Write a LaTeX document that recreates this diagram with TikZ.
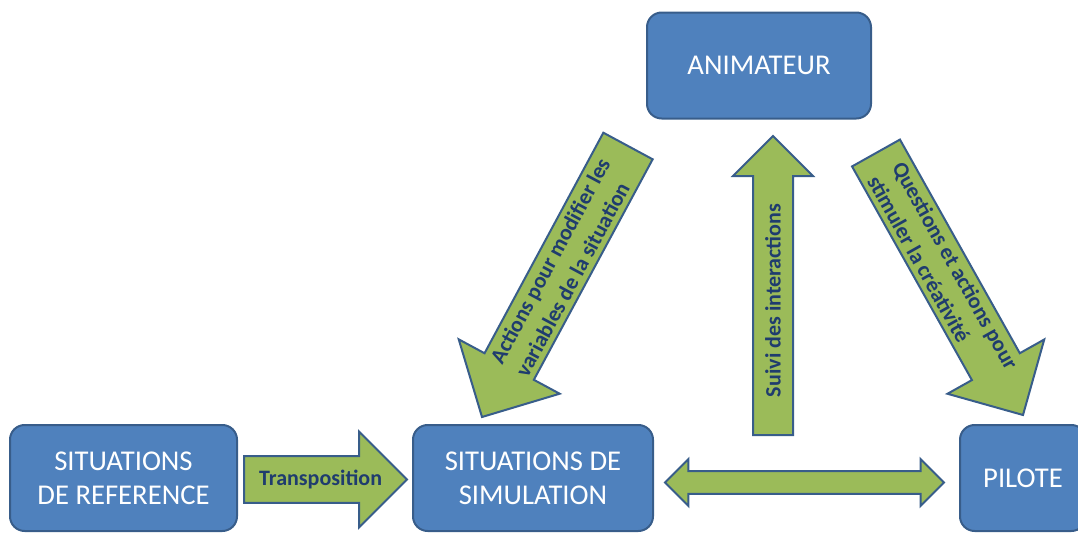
\documentclass[tikz,border=0pt]{standalone}
\usepackage{fontspec}
\setmainfont{Carlito}
\usetikzlibrary{calc}

\tikzset{every picture/.style={line width=0.75pt}}
\tikzset{
  box/.style={draw={rgb, 255:red, 56; green, 93; blue, 138 }, fill={rgb, 255:red, 79; green, 129; blue, 189 }, line width=1.5, rounded corners=11pt, minimum height=79.5pt, inner sep=0pt, align=center, text={rgb, 255:red, 255; green, 255; blue, 255 }, font=\fontsize{21.5}{25.5}\selectfont},
  greenarrow/.style={draw={rgb, 255:red, 56; green, 93; blue, 138 }, fill={rgb, 255:red, 155; green, 187; blue, 89 }, line width=1.5},
  arrowtext/.style={inner sep=0.75pt, text={rgb, 255:red, 31; green, 60; blue, 110 }, font=\fontsize{16.5}{21.5}\selectfont\bfseries},
  % block arrow: #1 half shaft width, #2 half head width (= head length)
  blockarrow/.style 2 args={to path={
    ($(\tikztotarget)!#2!(\tikztostart)$) coordinate (ba-m)
    ($(\tikztostart)!#1!90:(\tikztotarget)$) -- ($(ba-m)!#1!90:(\tikztotarget)$) -- ($(ba-m)!#2!90:(\tikztotarget)$) -- (\tikztotarget)
    -- ($(ba-m)!#2!-90:(\tikztotarget)$) -- ($(ba-m)!#1!-90:(\tikztotarget)$) -- ($(\tikztostart)!#1!-90:(\tikztotarget)$) -- cycle}},
  dblockarrow/.style 2 args={to path={
    ($(\tikztostart)!#2!(\tikztotarget)$) coordinate (ba-n)
    ($(\tikztotarget)!#2!(\tikztostart)$) coordinate (ba-m)
    (\tikztostart) -- ($(ba-n)!#2!90:(\tikztotarget)$) -- ($(ba-n)!#1!90:(\tikztotarget)$) -- ($(ba-m)!#1!90:(\tikztotarget)$) -- ($(ba-m)!#2!90:(\tikztotarget)$) -- (\tikztotarget)
    -- ($(ba-m)!#2!-90:(\tikztotarget)$) -- ($(ba-m)!#1!-90:(\tikztotarget)$) -- ($(ba-n)!#1!-90:(\tikztotarget)$) -- ($(ba-n)!#2!-90:(\tikztotarget)$) -- cycle}}
}

\begin{document}
\begin{tikzpicture}[x=0.75pt,y=0.75pt,yscale=-1,xscale=1]
\useasboundingbox (0,0) rectangle (1078,532);

%Rounded Rect [id:anim]
\node [box, minimum width=168pt] (anim) at (759,65.5) {ANIMATEUR};
%Rounded Rect [id:ref]
\node [box, minimum width=170.25pt] (ref) at (123.5,478) {SITUATIONS\\DE REFERENCE};
%Rounded Rect [id:sim]
\node [box, minimum width=180pt] (sim) at (533,478) {SITUATIONS DE\\SIMULATION};
%Rounded Rect [id:pilote]
\node [box, minimum width=94.5pt] (pilote) at (1023,478) {PILOTE};

%Arrow ends
\coordinate (tr-s) at (244,479.5);
\coordinate (tr-t) at (407,479.5);
\coordinate (sv-s) at (773,435);
\coordinate (sv-t) at (773,136);
\coordinate (ac-s) at (628,146);
\coordinate (ac-t) at (482,417);
\coordinate (qu-s) at (876,153);
\coordinate (qu-t) at (1023,415);
\coordinate (dl) at (665,482.5);
\coordinate (dr) at (944,482.5);

%Right Arrow [id:transposition]
\draw [greenarrow] (tr-s) to [blockarrow={17.6pt}{36pt}] (tr-t);
%Up Arrow [id:suivi]
\draw [greenarrow] (sv-s) to [blockarrow={15pt}{30pt}] (sv-t);
%Down Left Arrow [id:actions]
\draw [greenarrow] (ac-s) to [blockarrow={21pt}{43pt}] (ac-t);
%Down Right Arrow [id:questions]
\draw [greenarrow] (qu-s) to [blockarrow={20.6pt}{41.6pt}] (qu-t);
%Left-Right Arrow [id:echange]
\draw [greenarrow] (dl) to [dblockarrow={8.6pt}{17.6pt}] (dr);

% Text Node
\node [arrowtext] (transp) at ($(tr-s)!0.47!(tr-t)$) {Transposition};
% Text Node
\node [arrowtext, rotate=90] (suivi) at ($(sv-s)!0.45!(sv-t)$) {Suivi des interactions};
% Text Node
\node [arrowtext, rotate=61.7, align=left] (actions) at ($(ac-t)!0.552!(ac-s)$) {Actions pour modifier les\\variables de la situation};
% Text Node
\node [arrowtext, rotate=-60.7, align=left] (questions) at ($(qu-s)!0.456!(qu-t)$) {Questions et actions pour\\stimuler la créativité};

\end{tikzpicture}
\end{document}
